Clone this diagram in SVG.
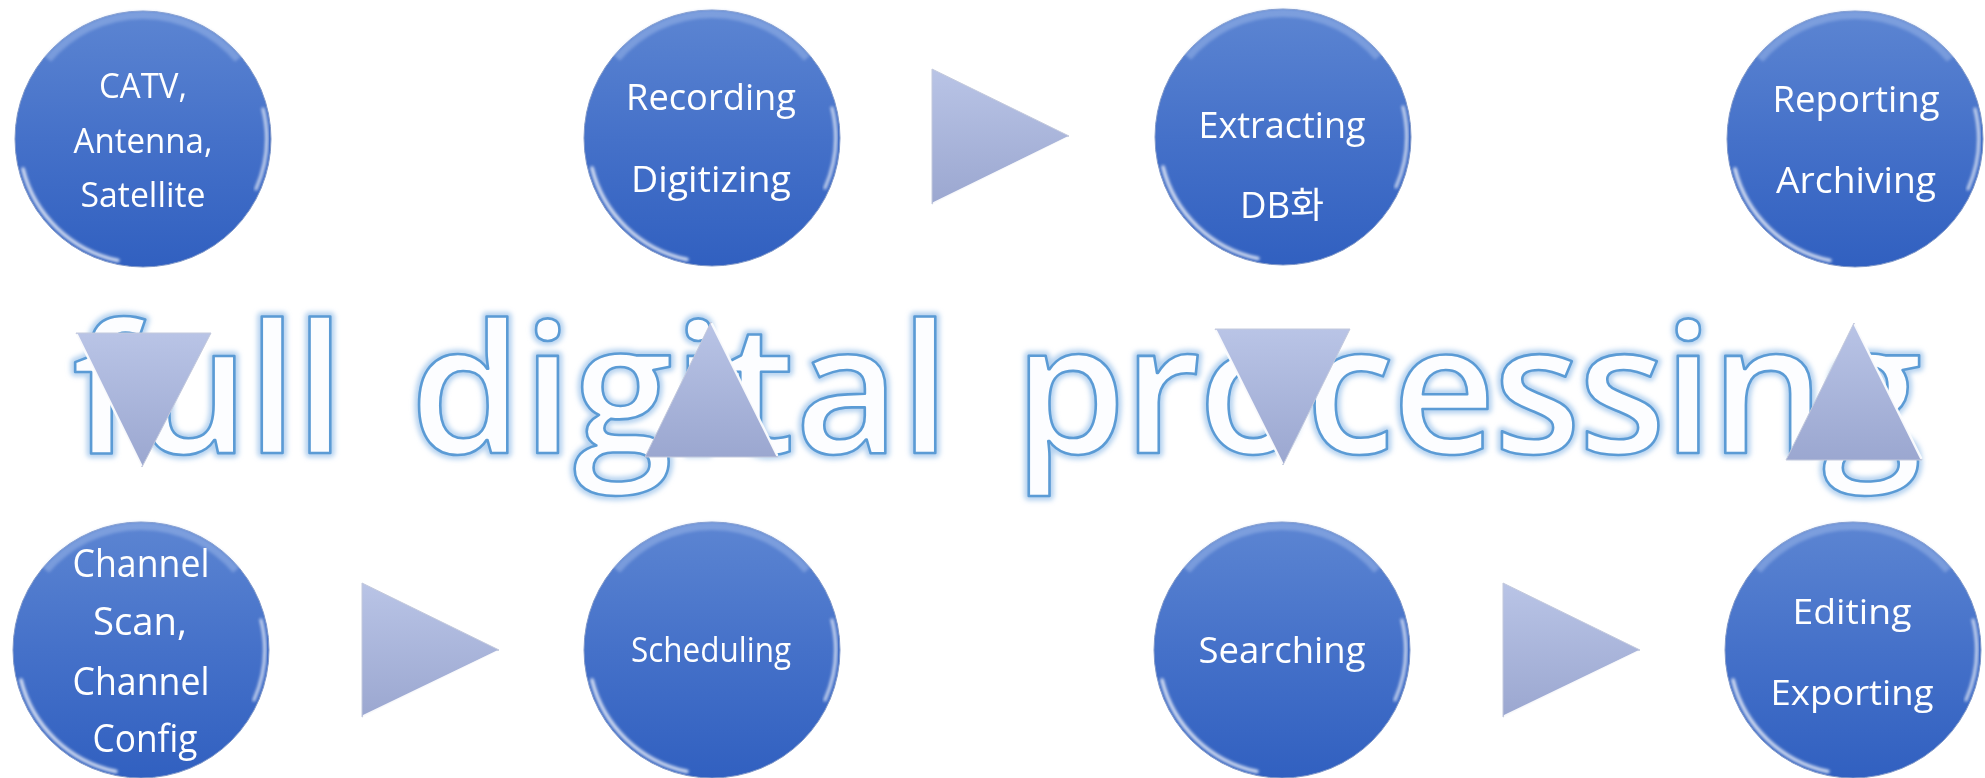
<svg xmlns="http://www.w3.org/2000/svg" width="1985" height="778" viewBox="0 0 1985 778">
<defs>
  <linearGradient id="gBlue" x1="0" y1="0" x2="0" y2="1">
    <stop offset="0" stop-color="#5c85d2"/>
    <stop offset="0.5" stop-color="#4571c9"/>
    <stop offset="1" stop-color="#3160c0"/>
  </linearGradient>
  <linearGradient id="gTri" x1="0" y1="0" x2="0" y2="1">
    <stop offset="0" stop-color="#b9c4e6"/>
    <stop offset="1" stop-color="#9ba7d0"/>
  </linearGradient>
  <filter id="soft" x="-20%" y="-20%" width="140%" height="140%">
    <feGaussianBlur stdDeviation="1.8"/>
  </filter>
  <filter id="glow" x="-5%" y="-20%" width="110%" height="140%">
    <feGaussianBlur stdDeviation="2.5"/>
  </filter>
  <g id="bubble">
    <circle r="128" fill="url(#gBlue)" stroke="#7f97c8" stroke-width="1"/>
    <path d="M -95 -79.7 A 124 124 0 0 1 95 -79.7" fill="none" stroke="#a6bfec" stroke-width="8" opacity="0.45" filter="url(#soft)"/>
    <path d="M -120 30 A 124 124 0 0 0 -25 121.5" fill="none" stroke="#ffffff" stroke-width="3.5" stroke-linecap="round" opacity="0.8" filter="url(#soft)"/>
    <path d="M 120 -30 A 124 124 0 0 1 113 50" fill="none" stroke="#ffffff" stroke-width="3" stroke-linecap="round" opacity="0.75" filter="url(#soft)"/>
  </g>
</defs>
<style>
  .big { font-family: "Open Sans", "Noto Sans", sans-serif; font-size: 180px; font-weight: 600; }
  .glow { fill: none; stroke: #9cc3ea; stroke-width: 9; stroke-linejoin: round; opacity: 0.75; }
  .word { fill: #fcfdff; stroke: #5b9bd5; stroke-width: 2.6; stroke-linejoin: round; }
  .lbl { font-family: "Open Sans", "Noto Sans", "Noto Sans CJK KR", sans-serif; fill: #ffffff; text-anchor: middle; }
  .tri { fill: url(#gTri); stroke: #c3c9dc; stroke-width: 1; }
  .hl { fill: none; stroke: #ffffff; stroke-width: 2.5; stroke-linecap: round; opacity: 0.9; }
</style>
<rect width="1985" height="778" fill="#ffffff"/>

<g id="title">
  <g filter="url(#glow)">
    <text class="big glow" x="72" y="453" textLength="273" lengthAdjust="spacing">full</text>
    <text class="big glow" x="410" y="453" textLength="540" lengthAdjust="spacing">digital</text>
    <text class="big glow" x="1014" y="453" textLength="908" lengthAdjust="spacing">processing</text>
  </g>
  <text class="big word" x="72" y="453" textLength="273" lengthAdjust="spacing">full</text>
  <text class="big word" x="410" y="453" textLength="540" lengthAdjust="spacing">digital</text>
  <text class="big word" x="1014" y="453" textLength="908" lengthAdjust="spacing">processing</text>
</g>

<g id="n1">
  <use href="#bubble" transform="translate(143,139)"/>
  <text class="lbl" font-size="35" x="143" y="98" textLength="88" lengthAdjust="spacingAndGlyphs">CATV,</text>
  <text class="lbl" font-size="35" x="143" y="153" textLength="139" lengthAdjust="spacingAndGlyphs">Antenna,</text>
  <text class="lbl" font-size="35" x="143" y="207" textLength="125" lengthAdjust="spacingAndGlyphs">Satellite</text>
</g>
<g id="n2">
  <use href="#bubble" transform="translate(712,138)"/>
  <text class="lbl" font-size="37" x="711" y="110" textLength="170" lengthAdjust="spacingAndGlyphs">Recording</text>
  <text class="lbl" font-size="37" x="711" y="192" textLength="160" lengthAdjust="spacingAndGlyphs">Digitizing</text>
</g>
<g id="n3">
  <use href="#bubble" transform="translate(1283,137)"/>
  <text class="lbl" font-size="36" x="1282" y="138" textLength="167" lengthAdjust="spacingAndGlyphs">Extracting</text>
  <text class="lbl" font-size="36" x="1282" y="218" textLength="84" lengthAdjust="spacingAndGlyphs">DB화</text>
</g>
<g id="n4">
  <use href="#bubble" transform="translate(1855,139)"/>
  <text class="lbl" font-size="36" x="1856" y="112" textLength="167" lengthAdjust="spacingAndGlyphs">Reporting</text>
  <text class="lbl" font-size="36" x="1856" y="193" textLength="160" lengthAdjust="spacingAndGlyphs">Archiving</text>
</g>
<g id="n5">
  <use href="#bubble" transform="translate(141,650)"/>
  <text class="lbl" font-size="38" x="141" y="577" textLength="137" lengthAdjust="spacingAndGlyphs">Channel</text>
  <text class="lbl" font-size="38" x="140" y="635" textLength="94" lengthAdjust="spacingAndGlyphs">Scan,</text>
  <text class="lbl" font-size="38" x="141" y="695" textLength="137" lengthAdjust="spacingAndGlyphs">Channel</text>
  <text class="lbl" font-size="38" x="145" y="752" textLength="105" lengthAdjust="spacingAndGlyphs">Config</text>
</g>
<g id="n6">
  <use href="#bubble" transform="translate(712,650)"/>
  <text class="lbl" font-size="34" x="711" y="662" textLength="160" lengthAdjust="spacingAndGlyphs">Scheduling</text>
</g>
<g id="n7">
  <use href="#bubble" transform="translate(1282,650)"/>
  <text class="lbl" font-size="37" x="1282" y="663" textLength="167" lengthAdjust="spacingAndGlyphs">Searching</text>
</g>
<g id="n8">
  <use href="#bubble" transform="translate(1853,650)"/>
  <text class="lbl" font-size="35" x="1852" y="624" textLength="119" lengthAdjust="spacingAndGlyphs">Editing</text>
  <text class="lbl" font-size="35" x="1852" y="705" textLength="163" lengthAdjust="spacingAndGlyphs">Exporting</text>
</g>

<g id="connectors">
  <polygon class="tri" points="932,69 1069,136 932,204"/>
  <line class="hl" x1="1067" y1="138" x2="934" y2="203"/>
  <polygon class="tri" points="362,583 499,650 362,717"/>
  <line class="hl" x1="497" y1="652" x2="364" y2="716"/>
  <polygon class="tri" points="1503,583 1640,650 1503,717"/>
  <line class="hl" x1="1638" y1="652" x2="1505" y2="716"/>
  <polygon class="tri" points="76,333 211,333 142,467"/>
  <line class="hl" x1="77" y1="335" x2="141" y2="465"/>
  <polygon class="tri" points="1215,329 1350,329 1283,465"/>
  <line class="hl" x1="1216" y1="331" x2="1282" y2="463"/>
  <polygon class="tri" points="711,322 778,457 645,457"/>
  <line class="hl" x1="712" y1="324" x2="777" y2="455"/>
  <polygon class="tri" points="1854,323 1922,460 1786,460"/>
  <line class="hl" x1="1855" y1="325" x2="1921" y2="458"/>
</g>
</svg>
